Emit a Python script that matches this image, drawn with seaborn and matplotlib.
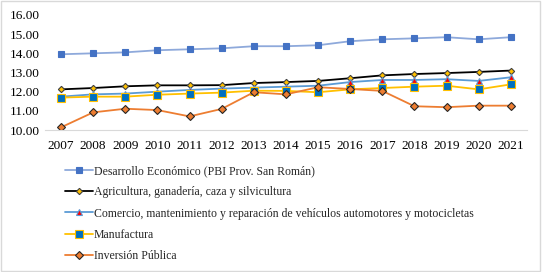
import numpy as np
import pandas as pd
import seaborn as sns
import matplotlib.pyplot as plt
from matplotlib.patches import Rectangle
from matplotlib.ticker import FormatStrFormatter

years = list(range(2007, 2022))

desarrollo = [13.95, 14.00, 14.05, 14.16, 14.21, 14.26, 14.37, 14.37, 14.42, 14.63, 14.73, 14.78, 14.84, 14.73, 14.84]
agricultura = [12.12, 12.19, 12.28, 12.33, 12.33, 12.34, 12.45, 12.50, 12.56, 12.70, 12.85, 12.92, 12.97, 13.03, 13.10]
comercio = [11.74, 11.86, 11.90, 12.00, 12.09, 12.16, 12.21, 12.26, 12.31, 12.50, 12.61, 12.61, 12.65, 12.56, 12.75]
manufactura = [11.69, 11.74, 11.74, 11.84, 11.90, 11.95, 12.05, 12.04, 11.97, 12.12, 12.19, 12.26, 12.31, 12.12, 12.38]
inversion = [10.14, 10.92, 11.11, 11.04, 10.71, 11.10, 11.97, 11.86, 12.23, 12.14, 12.04, 11.24, 11.19, 11.27, 11.27]

labels = [
    "Desarrollo Económico (PBI Prov. San Román)",
    "Agricultura, ganadería, caza y silvicultura",
    "Comercio, mantenimiento y reparación de vehículos automotores y motocicletas",
    "Manufactura",
    "Inversión Pública",
]
series = [desarrollo, agricultura, comercio, manufactura, inversion]

# line colour, marker, marker face, marker edge, marker size
styles = [
    ("#8EA9DB", "s", "#4472C4", "#4472C4", 5),
    ("#000000", "D", "#FFC000", "#404040", 3.2),
    ("#5B9BD5", "^", "#FF0000", "#5B9BD5", 5),
    ("#FFC000", "s", "#0070C0", "#FFC000", 5.6),
    ("#ED7D31", "D", "#ED7D31", "#262626", 4.4),
]

sns.set_style("white")
plt.rcParams["font.family"] = ["Liberation Serif", "DejaVu Serif"]
plt.rcParams["font.size"] = 9

fig = plt.figure(figsize=(5.42, 2.72), dpi=100)
ax = fig.add_axes([0.083, 0.522, 0.889, 0.423])

for lab, vals, (lc, mk, mf, me, ms) in zip(labels, series, styles):
    df = pd.DataFrame({"year": years, "value": vals})
    sns.lineplot(data=df, x="year", y="value", ax=ax, color=lc, linewidth=1.3,
                 marker=mk, markerfacecolor=mf, markeredgecolor=me,
                 markersize=ms, markeredgewidth=0.8, label=lab)

ax.set_xlim(2006.5, 2021.5)
ax.set_ylim(10, 16)
ax.set_xticks(years)
ax.set_yticks(np.arange(10, 16.01, 1))
ax.yaxis.set_major_formatter(FormatStrFormatter("%.2f"))
ax.set_xlabel("")
ax.set_ylabel("")
for s in ["top", "right", "left"]:
    ax.spines[s].set_visible(False)
ax.spines["bottom"].set_color("#D9D9D9")
ax.tick_params(axis="both", length=0, labelsize=9.5, colors="black")
ax.tick_params(axis="y", pad=4)
ax.tick_params(axis="x", pad=7)

handles, labs = ax.get_legend_handles_labels()
ax.get_legend().remove()
fig.legend(handles, labs, loc="upper left", bbox_to_anchor=(0.112, 0.41),
           frameon=False, fontsize=8.5, handlelength=2.3, handletextpad=0.1,
           labelspacing=0.78, borderaxespad=0)

fig.patches.append(Rectangle((0.002, 0.004), 0.995, 0.992, transform=fig.transFigure,
                             fill=False, edgecolor="#D9D9D9", linewidth=1))

fig.savefig("out.png", dpi=100, facecolor="white")
